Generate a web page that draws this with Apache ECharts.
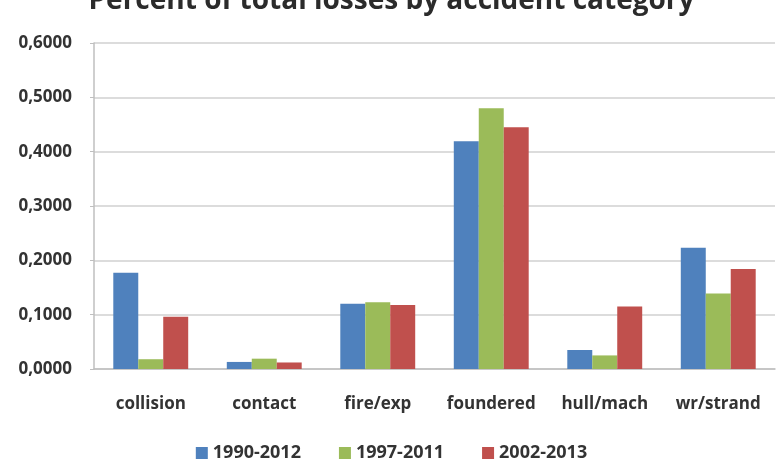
<!DOCTYPE html>
<html>
<head>
<meta charset="utf-8">
<script src="https://cdn.jsdelivr.net/npm/echarts@6/dist/echarts.min.js"></script>
<style>
  html, body { margin: 0; padding: 0; background: #fff; }
  #chart { width: 783px; height: 469px; }
</style>
</head>
<body>
<div id="chart"></div>
<script>
// categories and values
const categories = ['collision', 'contact', 'fire/exp', 'foundered', 'hull/mach', 'wr/strand'];
const s1990 = [0.177, 0.013, 0.120, 0.419, 0.035, 0.223];
const s1997 = [0.018, 0.019, 0.123, 0.480, 0.025, 0.139];
const s2002 = [0.096, 0.012, 0.118, 0.445, 0.115, 0.184];
const seriesNames = ['1990-2012', '1997-2011', '2002-2013'];
const colors = ['#4F81BD', '#9BBB59', '#C0504D'];

const chart = echarts.init(document.getElementById('chart'));
const font = '"Open Sans", "Liberation Sans", sans-serif';

const bar = (name, data, color) => ({
    name: name,
    type: 'bar',
    data: data,
    barGap: '0%',
    barCategoryGap: '34%',
    itemStyle: { color: color }
});

chart.setOption({
    animation: false,
    color: colors,
    title: {
        text: 'Percent of total losses by accident category',
        left: 'center',
        top: -18,
        textStyle: { fontFamily: font, fontSize: 28, fontWeight: 'bold', color: '#2b2b2b' }
    },
    legend: {
        bottom: 2,
        left: 'center',
        itemWidth: 12,
        itemHeight: 12,
        itemGap: 38,
        icon: 'rect',
        textStyle: { fontFamily: font, fontSize: 18, fontWeight: 'bold', color: '#333' },
        data: seriesNames
    },
    grid: { left: 94, right: 8, top: 43, bottom: 100 },
    xAxis: {
        type: 'category',
        data: categories,
        axisLine: { lineStyle: { color: '#bfbfbf', width: 1.5 } },
        axisTick: { show: false },
        axisLabel: { interval: 0, fontFamily: font, fontSize: 17, fontWeight: 'bold', color: '#333', margin: 27 }
    },
    yAxis: {
        type: 'value',
        min: 0,
        max: 0.6,
        interval: 0.1,
        axisLine: { show: true, lineStyle: { color: '#bfbfbf', width: 1.5 } },
        axisTick: { show: true, length: 4, lineStyle: { color: '#bfbfbf' } },
        splitLine: { lineStyle: { color: '#d0d0d0', width: 1.5 } },
        axisLabel: {
            fontFamily: font, fontSize: 17, fontWeight: 'bold', color: '#333', margin: 22,
            formatter: v => v.toFixed(4).replace('.', ',')
        }
    },
    series: [
        bar(seriesNames[0], s1990, colors[0]),
        bar(seriesNames[1], s1997, colors[1]),
        bar(seriesNames[2], s2002, colors[2])
    ]
});
</script>
</body>
</html>
